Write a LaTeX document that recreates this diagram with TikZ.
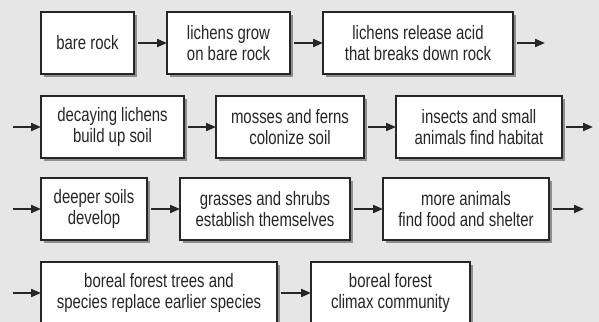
\documentclass[tikz,border=0pt]{standalone}
\usepackage{fontspec}
\setmainfont{Liberation Sans}[FakeStretch=0.77]
\usetikzlibrary{arrows.meta,shadows}
\definecolor{bgcol}{HTML}{E6E6E6}
\definecolor{shadcol}{HTML}{8E8E8E}
\definecolor{inkcol}{HTML}{262626}
\def\u{0.025cm}

\begin{document}
\begin{tikzpicture}[x=\u,y=-\u,
  box/.style={draw=inkcol,fill=white,line width=1.1pt,inner sep=0pt,outer sep=0pt,
    minimum height=62*\u,align=center,text=inkcol,
    font=\fontsize{13.8}{14.9}\selectfont,
    general shadow={fill=shadcol,draw=none,shadow xshift=3*\u,shadow yshift=-3*\u}},
  arr/.style={-{Triangle[length=10*\u,width=8*\u]},line width=1.4pt,draw=inkcol}]
  % --- background ---
  \clip (0,0) rectangle (599,322);
  \fill[bgcol] (0,0) rectangle (599,322);
  % --- row 1 ---
  \node[box,minimum width=93*\u] (rock) at (87.5,43) {bare rock};
  \node[box,minimum width=123*\u] (grow) at (228.5,43) {lichens grow\\on bare rock};
  \node[box,minimum width=190*\u] (acid) at (418,43) {lichens release acid\\that breaks down rock};
  \coordinate (out1) at (545,43);
  % --- row 2 ---
  \coordinate (in2) at (13,127);
  \node[box,minimum width=143*\u] (decay) at (112.5,127) {decaying lichens\\build up soil};
  \node[box,minimum width=148*\u] (moss) at (290,127) {mosses and ferns\\colonize soil};
  \node[box,minimum width=166*\u] (insect) at (479,127) {insects and small\\animals find habitat};
  \coordinate (out2) at (593,127);
  % --- row 3 ---
  \coordinate (in3) at (13,209);
  \node[box,minimum width=106*\u] (deep) at (94,209) {deeper soils\\develop};
  \node[box,minimum width=170*\u] (grass) at (265,209) {grasses and shrubs\\establish themselves};
  \node[box,minimum width=166*\u] (animal) at (466,209) {more animals\\find food and shelter};
  \coordinate (out3) at (584,209);
  % --- row 4 ---
  \coordinate (in4) at (13,293);
  \node[box,minimum width=236*\u] (trees) at (159,293) {boreal forest trees and\\species replace earlier species};
  \node[box,minimum width=159*\u] (climax) at (390.5,293) {boreal forest\\climax community};
  % --- arrows ---
  \draw[arr] ([xshift=4*\u]rock.east) -- (grow.west);
  \draw[arr] ([xshift=4*\u]grow.east) -- (acid.west);
  \draw[arr] ([xshift=4*\u]acid.east) -- (out1);
  \draw[arr] (in2) -- (decay.west);
  \draw[arr] ([xshift=4*\u]decay.east) -- (moss.west);
  \draw[arr] ([xshift=4*\u]moss.east) -- (insect.west);
  \draw[arr] ([xshift=4*\u]insect.east) -- (out2);
  \draw[arr] (in3) -- (deep.west);
  \draw[arr] ([xshift=4*\u]deep.east) -- (grass.west);
  \draw[arr] ([xshift=4*\u]grass.east) -- (animal.west);
  \draw[arr] ([xshift=4*\u]animal.east) -- (out3);
  \draw[arr] (in4) -- (trees.west);
  \draw[arr] ([xshift=4*\u]trees.east) -- (climax.west);
\end{tikzpicture}
\end{document}
